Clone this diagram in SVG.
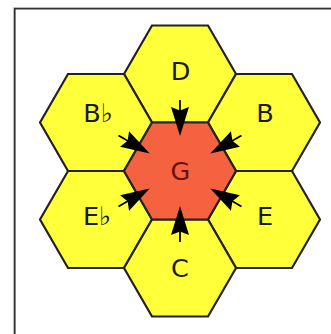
<svg xmlns="http://www.w3.org/2000/svg" xmlns:xlink="http://www.w3.org/1999/xlink" width="331" height="334" viewBox="0 0 331 334">
<style>
.hex{stroke:#222;stroke-width:2.2;stroke-linejoin:miter}
.y{fill:#ffff3a}
.r{fill:#f4623f}
.lbl{font-family:"DejaVu Sans","Liberation Sans",sans-serif;font-size:25.5px;fill:#1a1a1a;text-anchor:middle}
.fl{font-family:"DejaVu Sans",sans-serif}
.g{fill:#6b1010}
.ah{fill:#000}
.al{stroke:#000;stroke-width:1.8;fill:none}
</style>
<defs>
<polygon id="hx" points="-56,0 -28,-48.5 28,-48.5 56,0 28,48.5 -28,48.5"/>
<g id="arr">
<path class="al" d="M60,0 L71,0"/>
<path class="ah" d="M35,0 L64,-9 L60.5,0 L64,9 Z"/>
</g>
</defs>
<rect x="0" y="0" width="331" height="334" fill="#fff"/>
<path d="M13.5,334 V7.5 H331" fill="none" stroke="#bbb" stroke-width="1"/>
<path d="M14.8,334 V8.8 H331" fill="none" stroke="#333" stroke-width="1.6"/>
<g id="node-D"><use xlink:href="#hx" class="hex y" transform="translate(180,74)"/><text class="lbl" x="180.5" y="80">D</text></g>
<g id="node-B"><use xlink:href="#hx" class="hex y" transform="translate(264,122.5)"/><text class="lbl" x="265" y="122">B</text></g>
<g id="node-Bb"><use xlink:href="#hx" class="hex y" transform="translate(96,122.5)"/><text class="lbl" x="98" y="122">B<tspan class="fl">♭&#xFE0E;</tspan></text></g>
<g id="node-E"><use xlink:href="#hx" class="hex y" transform="translate(264,219.5)"/><text class="lbl" x="265" y="225">E</text></g>
<g id="node-Eb"><use xlink:href="#hx" class="hex y" transform="translate(96,219.5)"/><text class="lbl" x="97" y="225">E<tspan class="fl">♭&#xFE0E;</tspan></text></g>
<g id="node-C"><use xlink:href="#hx" class="hex y" transform="translate(180,268)"/><text class="lbl" x="180" y="277">C</text></g>
<g id="node-G"><use xlink:href="#hx" class="hex r" transform="translate(180,171)"/><text class="lbl g" x="180.5" y="180">G</text></g>
<g id="connectors">
<use xlink:href="#arr" transform="translate(180,171) rotate(-90)"/>
<use xlink:href="#arr" transform="translate(180,171) rotate(-30)"/>
<use xlink:href="#arr" transform="translate(180,171) rotate(30)"/>
<use xlink:href="#arr" transform="translate(180,171) rotate(90)"/>
<use xlink:href="#arr" transform="translate(180,171) rotate(150)"/>
<use xlink:href="#arr" transform="translate(180,171) rotate(210)"/>
</g>
</svg>
